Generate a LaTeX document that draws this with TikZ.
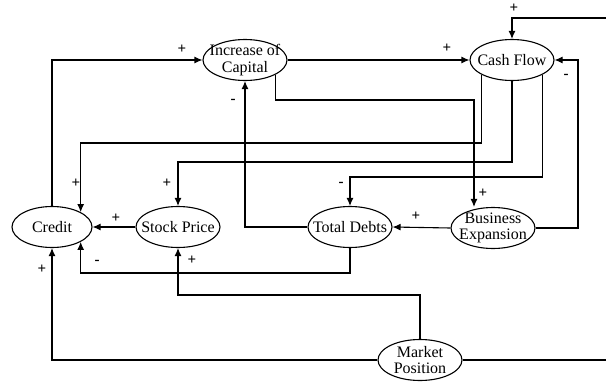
\documentclass[tikz,border=0pt]{standalone}
\usepackage{fontspec}
\setmainfont{Liberation Serif}
\usetikzlibrary{shapes.geometric,arrows.meta}
\begin{document}
\begin{tikzpicture}[>={Latex[length=8pt,width=7pt]},x=1pt,y=-1pt,line width=1.1pt,
	var/.style={ellipse,draw,minimum width=84pt,minimum height=41pt,inner xsep=-9pt,inner ysep=-6pt,align=center,font=\fontsize{16}{16.5}\selectfont},
	sgn/.style={font=\fontsize{15}{15}\selectfont\bfseries,inner sep=0pt}]
	\useasboundingbox (0,0) rectangle (606,381);
	% variables
	\node[var] (cap) at (245,60) {Increase of\\Capital};
	\node[var] (cash) at (512,60) {Cash Flow};
	\node[var,minimum width=80pt] (cred) at (52,227) {Credit};
	\node[var] (stock) at (178,227) {Stock Price};
	\node[var] (debt) at (350,227) {Total Debts};
	\node[var] (bus) at (493,228) {Business\\Expansion};
	\node[var] (mkt) at (420,360) {Market\\Position};
	\coordinate (ext) at (606,18);
	\coordinate (out) at (606,360);
	\coordinate (bend) at (474,100);
	% links
	\draw[->] (cred.north) |- (cap.west);
	\draw[->] (cap.east) -- (cash.west);
	\draw[->] (cap.south east) |- (bend) -- (bend |- bus.north);
	\draw[->] (ext) -| (cash.north);
	\draw[->] (cash.south west) -- (cash.south west |- 0,143) -| (cred.north east);
	\draw[->] (cash.south) -- (cash.south |- 0,162) -| (stock.north);
	\draw[->] (cash.south east) -- (cash.south east |- 0,177) -| (debt.north);
	\draw[->] (bus.east) -- (bus.east -| 578,0) |- (cash.east);
	\draw[->] (bus.west) -- (debt.east);
	\draw[->] (debt.west) -| (cap.south);
	\draw[->] (stock.west) -- (cred.east);
	\draw[->] (debt.south) -- (debt.south |- 0,273) -| (cred.south east);
	\draw[->] (mkt.north) -- (mkt.north |- 0,295) -| (stock.south);
	\draw[->] (mkt.west) -| (cred.south);
	\draw (mkt.east) -- (out);
	% signs
	\node[sgn] (s1) at (182,49) {+};
	\node[sgn] (s2) at (447,48) {+};
	\node[sgn] (s3) at (514,8) {+};
	\node[sgn] (s4) at (566,76) {-};
	\node[sgn] (s5) at (233,101) {-};
	\node[sgn] (s6) at (76,183) {+};
	\node[sgn] (s7) at (167,183) {+};
	\node[sgn] (s8) at (341,184) {-};
	\node[sgn] (s9) at (483,193) {+};
	\node[sgn] (s10) at (416,216) {+};
	\node[sgn] (s11) at (116,218) {+};
	\node[sgn] (s12) at (97,262) {-};
	\node[sgn] (s13) at (192,260) {+};
	\node[sgn] (s14) at (42,269) {+};
\end{tikzpicture}
\end{document}
